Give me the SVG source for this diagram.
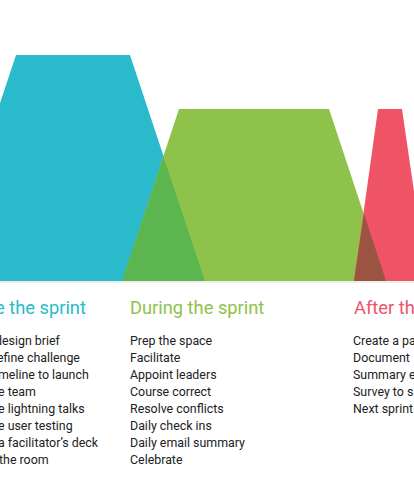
<svg xmlns="http://www.w3.org/2000/svg" width="414" height="489" viewBox="0 0 414 489">
<style>
.h{font-family:Roboto,"Liberation Sans",sans-serif;font-size:18.3px;font-weight:400}
.i{font-family:Roboto,"Liberation Sans",sans-serif;font-size:12.4px;fill:#222}
</style>
<rect width="414" height="489" fill="#fff"/>
<g id="shapes">
<polygon id="blue" points="16,55 130,55 205,281 -59,281" fill="#2BBACB"/>
<polygon id="green" points="179,109 329,109 386,281 122,281" fill="#8EC24B"/>
<polygon id="red" points="378,109 402,109 427,281 354,281" fill="#EE5366"/>
<polygon id="blue-green" points="163.5,157 205,281 122,281" fill="#5BB650"/>
<polygon id="green-red" points="364,214 386,281 354,281" fill="#9A5441"/>
<line x1="0" y1="282" x2="414" y2="282" stroke="#ddd" stroke-width="1"/>
</g>
<g id="before">
<text class="h" x="-5" y="314" fill="#2BBACB">e the sprint</text>
<text class="i" x="-5" y="345">design brief</text>
<text class="i" x="-3" y="362">efine challenge</text>
<text class="i" x="-2" y="379">meline to launch</text>
<text class="i" x="-2" y="396">e team</text>
<text class="i" x="-2" y="413">e lightning talks</text>
<text class="i" x="-2" y="430">e user testing</text>
<text class="i" x="-2" y="447">a facilitator’s deck</text>
<text class="i" x="-1" y="464">the room</text>
</g>
<g id="during">
<text class="h" x="130" y="314" fill="#8EC24B">During the sprint</text>
<text class="i" x="130" y="345">Prep the space</text>
<text class="i" x="130" y="362">Facilitate</text>
<text class="i" x="130" y="379">Appoint leaders</text>
<text class="i" x="130" y="396">Course correct</text>
<text class="i" x="130" y="413">Resolve conflicts</text>
<text class="i" x="130" y="430">Daily check ins</text>
<text class="i" x="130" y="447">Daily email summary</text>
<text class="i" x="130" y="464">Celebrate</text>
</g>
<g id="after">
<text class="h" x="354" y="314" fill="#EE5366">After th</text>
<text class="i" x="353" y="345">Create a pa</text>
<text class="i" x="353" y="362">Document</text>
<text class="i" x="353" y="379">Summary e</text>
<text class="i" x="353" y="396">Survey to s</text>
<text class="i" x="353" y="413">Next sprint</text>
</g>
</svg>
